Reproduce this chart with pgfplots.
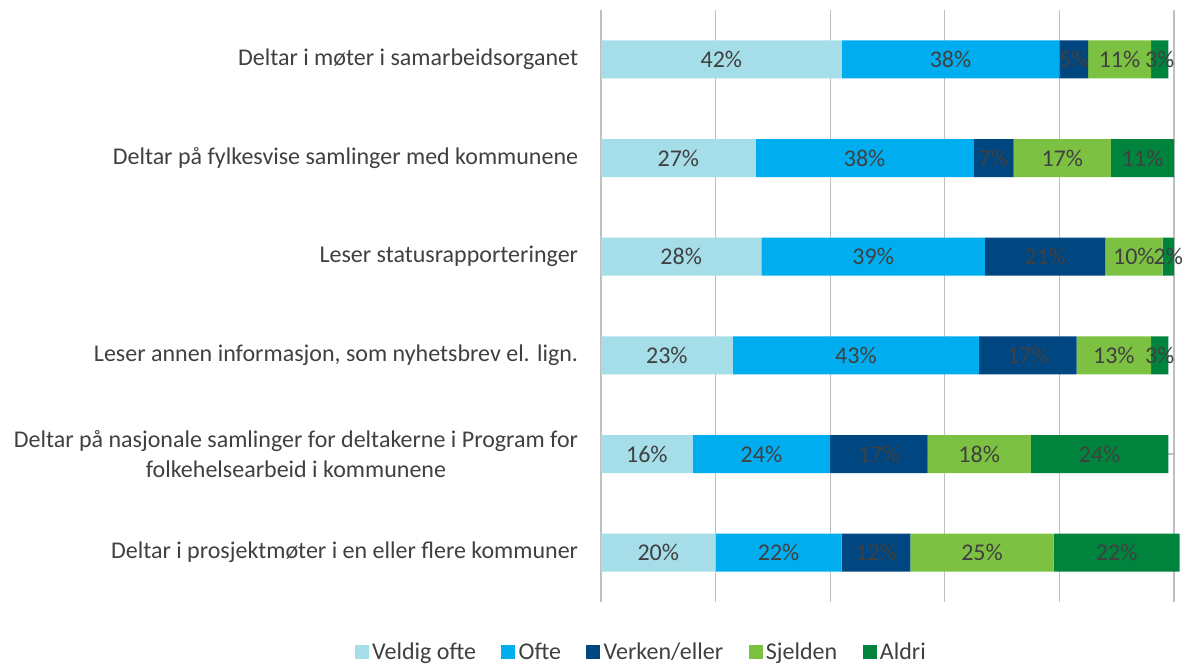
\documentclass[border=0pt]{standalone}
\usepackage{pgfplots}
\pgfplotsset{compat=1.18}
\usepackage{fontspec}
\setmainfont{Carlito}
\definecolor{cvo}{HTML}{A5DEE9}
\definecolor{cof}{HTML}{00AEEF}
\definecolor{cve}{HTML}{004680}
\definecolor{csj}{HTML}{7DC142}
\definecolor{cal}{HTML}{00843D}
\definecolor{txt}{HTML}{404040}
\definecolor{grid}{HTML}{D9D9D9}
\begin{document}
\begin{tikzpicture}
\useasboundingbox (0,0) rectangle (888.75pt,498pt);
\begin{axis}[
  at={(450.75pt,490.5pt)}, anchor=north west,
  scale only axis, width=429.75pt, height=444pt,
  xbar stacked, bar width=28.5pt, clip=false,
  xmin=0, xmax=100, ymin=0.5, ymax=6.5, y dir=reverse,
  xtick={0,20,40,60,80,100}, xticklabels={},
  xmajorgrids, grid style={grid, line width=1pt},
  ytick={1,2,3,4,5,6},
  yticklabels={Deltar i møter i samarbeidsorganet,Deltar på fylkesvise samlinger med kommunene,Leser statusrapporteringer,{Leser annen informasjon, som nyhetsbrev el. lign.},{Deltar på nasjonale samlinger for deltakerne i Program for\\folkehelsearbeid i kommunene},Deltar i prosjektmøter i en eller flere kommuner},
  yticklabel style={font=\fontsize{18}{22}\selectfont, text=txt, align=center, inner sep=0pt, xshift=-17pt},
  major tick length=0pt,
  axis line style={draw=none},
  /pgf/number format/assume math mode=true,
  nodes near coords={\pgfmathprintnumber{\pgfplotspointmeta}\%},
  point meta=explicit,
  every node near coord/.append style={font=\fontsize{18}{22}\selectfont, text=txt, anchor=center},
  nodes near coords align={center},
  legend style={at={(0.0716,-0.0845)}, anchor=center, draw=none, font=\fontsize{18}{22}\selectfont, text=txt, legend columns=-1,
    nodes={inner xsep=2.5pt},
    /tikz/every even column/.append style={column sep=16.5pt}, inner sep=0pt},
  legend cell align=left,
  legend image code/.code={\fill[#1] (0pt,-5.25pt) rectangle (10.5pt,5.25pt);},
]
\addplot[fill=cvo, draw=none] coordinates {(42,1) [42] (27,2) [27] (28,3) [28] (23,4) [23] (16,5) [16] (20,6) [20]};
\addplot[fill=cof, draw=none] coordinates {(38,1) [38] (38,2) [38] (39,3) [39] (43,4) [43] (24,5) [24] (22,6) [22]};
\addplot[fill=cve, draw=none] coordinates {(5,1) [5] (7,2) [7] (21,3) [21] (17,4) [17] (17,5) [17] (12,6) [12]};
\addplot[fill=csj, draw=none] coordinates {(11,1) [11] (17,2) [17] (10,3) [10] (13,4) [13] (18,5) [18] (25,6) [25]};
\addplot[fill=cal, draw=none] coordinates {(3,1) [3] (11,2) [11] (2,3) [2] (3,4) [3] (24,5) [24] (22,6) [22]};
\legend{Veldig ofte,Ofte,Verken/eller,Sjelden,Aldri}
\end{axis}
\end{tikzpicture}
\end{document}
